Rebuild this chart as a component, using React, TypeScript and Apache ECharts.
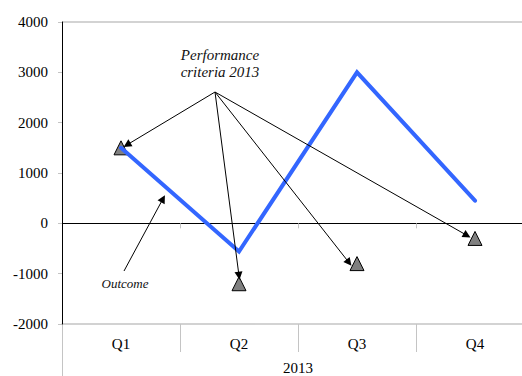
import React, { useEffect, useRef } from "react";
import * as echarts from "echarts";

// Quarterly outcome vs. performance criteria, 2013
const quarters = ["Q1", "Q2", "Q3", "Q4"];
const yearLabel = ["2013"];
const outcome = [1500, -560, 3000, 450];
const criteria = [1500, -1200, -800, -300];
const yTicks = { min: -2000, max: 4000, interval: 1000 };

// Arrow tip offsets (px) from each criteria marker, so heads stop at the triangles
const tipOffsets: [number, number][] = [
  [6, -3],
  [0, -8],
  [-8, -1],
  [-8, -3],
];

const SERIF = "'Liberation Serif', 'Times New Roman', serif";
const GREY = "#c4c4c4";

export default function App() {
  const ref = useRef<HTMLDivElement>(null);

  useEffect(() => {
    if (!ref.current) return;
    const chart = echarts.init(ref.current, null, { renderer: "svg" });

    const option: any = {
      animation: false,
      grid: { left: 62, right: -12, top: 22, bottom: 52, outerBoundsMode: "none" },
      xAxis: [
        {
          type: "category",
          data: quarters,
          position: "bottom",
          boundaryGap: true,
          z: 0,
          axisLine: { show: true, onZero: false, lineStyle: { color: GREY, width: 1.5 } },
          axisTick: { show: true, length: 28, interval: 0, lineStyle: { color: GREY, width: 1 } },
          axisLabel: { color: "#000", fontFamily: SERIF, fontSize: 15, margin: 12 },
          splitLine: { show: false },
        },
        {
          type: "category",
          data: yearLabel,
          position: "bottom",
          boundaryGap: true,
          z: 0,
          axisLine: { show: false, onZero: false },
          axisTick: { show: true, length: 54, interval: 0, lineStyle: { color: GREY, width: 1 } },
          axisLabel: { color: "#000", fontFamily: SERIF, fontSize: 15, margin: 36 },
          splitLine: { show: false },
        },
        {
          // zero line with short category ticks below it
          type: "category",
          data: quarters,
          position: "bottom",
          boundaryGap: true,
          z: 0,
          axisLine: { show: true, onZero: true, lineStyle: { color: "#000", width: 1 } },
          axisTick: { show: true, length: 5, interval: 0, lineStyle: { color: GREY, width: 1 } },
          axisLabel: { show: false },
          splitLine: { show: false },
        },
      ],
      yAxis: {
        type: "value",
        min: yTicks.min,
        max: yTicks.max,
        interval: yTicks.interval,
        z: 1,
        axisLine: { show: true, onZero: false, lineStyle: { color: "#000", width: 1 } },
        axisTick: { show: true, length: 4, lineStyle: { color: GREY } },
        axisLabel: {
          color: "#000",
          fontFamily: SERIF,
          fontSize: 15,
          margin: 14,
          formatter: (v: number) => String(v),
        },
        splitLine: {
          show: true,
          lineStyle: {
            color: ["none", "none", "none", "none", "none", "none", GREY],
            width: 1.5,
          },
        },
      },
      series: [
        {
          name: "Outcome",
          type: "line",
          xAxisIndex: 0,
          data: outcome,
          symbol: "none",
          z: 3,
          lineStyle: { color: "#3366ff", width: 4, cap: "round", join: "miter" },
        },
        {
          name: "Performance criteria 2013",
          type: "scatter",
          xAxisIndex: 0,
          data: criteria,
          symbol: "triangle",
          symbolSize: 14,
          z: 2,
          itemStyle: { color: "#808080", borderColor: "#000", borderWidth: 1, opacity: 1 },
        },
      ],
      graphic: [
        {
          type: "text",
          x: 220,
          y: 63,
          silent: true,
          style: {
            text: "Performance\ncriteria 2013",
            align: "center",
            verticalAlign: "middle",
            font: `italic 15px ${SERIF}`,
            lineHeight: 17,
            fill: "#111",
          },
        },
        {
          type: "text",
          x: 125,
          y: 283,
          silent: true,
          style: {
            text: "Outcome",
            align: "center",
            verticalAlign: "middle",
            font: `italic 13px ${SERIF}`,
            fill: "#111",
          },
        },
      ],
    };

    chart.setOption(option);

    // Annotation arrows: anchored under the caption, pointing at each marker
    const origin = { x: 215, y: 92 };
    const criteriaArrows = criteria.map((v, i) => {
      const p = chart.convertToPixel({ seriesIndex: 1 }, [i, v]) as number[];
      return [
        { x: origin.x, y: origin.y },
        { x: p[0] + tipOffsets[i][0], y: p[1] + tipOffsets[i][1] },
      ];
    });

    // Outcome arrow points just below the first segment of the outcome line
    const a = chart.convertToPixel({ seriesIndex: 0 }, [0, outcome[0]]) as number[];
    const b = chart.convertToPixel({ seriesIndex: 0 }, [1, outcome[1]]) as number[];
    const t = 0.356;
    const outcomeTip = { x: a[0] + (b[0] - a[0]) * t, y: a[1] + (b[1] - a[1]) * t + 14 };

    const arrowStyle = {
      silent: true,
      symbol: ["none", "triangle"],
      symbolSize: 8,
      label: { show: false },
      emphasis: { disabled: true },
      lineStyle: { color: "#000", width: 1, type: "solid" },
    };

    chart.setOption({
      series: [
        {
          markLine: {
            ...arrowStyle,
            data: [[{ x: 124, y: 271 }, outcomeTip]],
          },
        },
        {
          markLine: {
            ...arrowStyle,
            data: criteriaArrows,
          },
        },
      ],
    });

    return () => chart.dispose();
  }, []);

  return <div ref={ref} style={{ width: 522, height: 376, position: "absolute", left: 0, top: 0 }} />;
}
